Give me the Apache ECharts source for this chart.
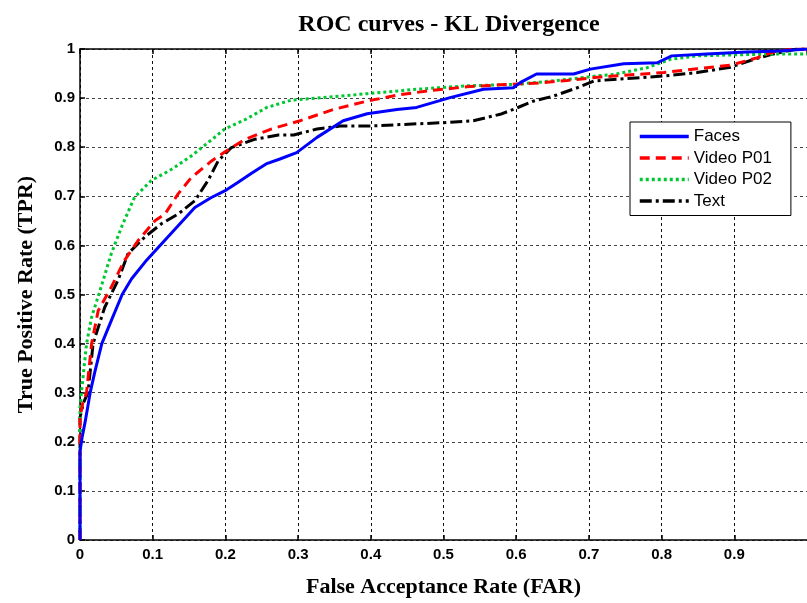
<!DOCTYPE html>
<html>
<head>
<meta charset="utf-8">
<script src="https://cdn.jsdelivr.net/npm/echarts@6/dist/echarts.min.js"></script>
<style>
  html, body { margin: 0; padding: 0; background: #fff; }
  #main { width: 807px; height: 603px; }
</style>
</head>
<body>
<div id="main"></div>
<script>
// ROC points: [FAR, TPR]
var faces = [[0,0],[0,0.18],[0.003,0.21],[0.007,0.24],[0.014,0.3],[0.02,0.34],[0.03,0.4],[0.045,0.454],[0.058,0.5],[0.071,0.532],[0.09,0.567],[0.112,0.603],[0.135,0.64],[0.158,0.677],[0.18,0.697],[0.199,0.711],[0.217,0.728],[0.237,0.748],[0.256,0.766],[0.275,0.776],[0.298,0.789],[0.326,0.82],[0.362,0.854],[0.395,0.868],[0.436,0.877],[0.463,0.881],[0.509,0.901],[0.555,0.918],[0.596,0.921],[0.606,0.932],[0.628,0.949],[0.679,0.949],[0.702,0.959],[0.748,0.97],[0.794,0.972],[0.814,0.986],[0.862,0.99],[0.917,0.994],[0.963,0.996],[1,1]];
var videoP01 = [[0,0],[0,0.25],[0.004,0.28],[0.009,0.3],[0.016,0.4],[0.025,0.467],[0.043,0.515],[0.061,0.569],[0.08,0.61],[0.103,0.65],[0.117,0.664],[0.135,0.705],[0.153,0.738],[0.181,0.772],[0.199,0.79],[0.227,0.816],[0.263,0.837],[0.303,0.854],[0.349,0.877],[0.395,0.894],[0.44,0.907],[0.486,0.916],[0.532,0.923],[0.578,0.927],[0.624,0.93],[0.67,0.936],[0.716,0.943],[0.734,0.945],[0.803,0.952],[0.849,0.96],[0.895,0.967],[0.931,0.982],[0.954,0.994],[0.98,1],[1,1]];
var videoP02 = [[0,0],[0,0.27],[0.002,0.3],[0.009,0.4],[0.016,0.454],[0.029,0.515],[0.043,0.583],[0.057,0.637],[0.075,0.698],[0.098,0.732],[0.126,0.755],[0.153,0.782],[0.181,0.815],[0.199,0.837],[0.227,0.856],[0.257,0.881],[0.291,0.896],[0.341,0.902],[0.395,0.909],[0.463,0.918],[0.532,0.925],[0.601,0.928],[0.67,0.938],[0.716,0.946],[0.734,0.948],[0.78,0.962],[0.812,0.979],[0.849,0.986],[0.895,0.988],[0.931,0.989],[0.973,0.99],[1,0.99]];
var text = [[0,0],[0,0.25],[0.005,0.28],[0.011,0.3],[0.018,0.4],[0.034,0.474],[0.052,0.528],[0.066,0.583],[0.089,0.617],[0.112,0.644],[0.135,0.664],[0.158,0.691],[0.176,0.732],[0.19,0.772],[0.208,0.799],[0.24,0.816],[0.273,0.825],[0.294,0.825],[0.326,0.837],[0.358,0.843],[0.395,0.843],[0.44,0.846],[0.5,0.85],[0.541,0.854],[0.578,0.867],[0.596,0.877],[0.624,0.894],[0.651,0.904],[0.684,0.921],[0.707,0.935],[0.734,0.938],[0.803,0.945],[0.849,0.952],[0.895,0.963],[0.927,0.979],[0.954,0.99],[0.986,1],[1,1]];
var seriesNames = ['Faces', 'Video P01', 'Video P02', 'Text'];

var chart = echarts.init(document.getElementById('main'));

var tickFont = { fontFamily: 'Liberation Sans, Arial', fontWeight: 'bold', fontSize: 15, color: '#000' };
var nameFont = { fontFamily: 'Liberation Serif, Times New Roman', fontWeight: 'bold', fontSize: 22, color: '#000' };

function line(name, data, color, type, z) {
    return {
        name: name,
        type: 'line',
        data: data,
        showSymbol: false,
        symbol: 'none',
        z: z,
        lineStyle: { color: color, width: 3, type: type },
        itemStyle: { color: color }
    };
}

var option = {
    animation: false,
    backgroundColor: '#fff',
    title: {
        text: 'ROC curves - KL Divergence',
        left: 444,
        textAlign: 'center',
        top: 8,
        textStyle: { fontFamily: 'Liberation Serif, Times New Roman', fontWeight: 'bold', fontSize: 24, color: '#000' }
    },
    grid: { left: 80, top: 49, right: -3, bottom: 63 },
    legend: {
        orient: 'vertical',
        left: 630,
        top: 122,
        padding: [6, 19, 6, 8],
        itemWidth: 49,
        itemHeight: 14,
        itemGap: 4.5,
        borderColor: '#000',
        borderWidth: 1,
        backgroundColor: '#fff',
        itemStyle: { opacity: 0 },
        lineStyle: { width: 3.5 },
        textStyle: { fontFamily: 'Liberation Sans, Arial', fontSize: 17, color: '#000' },
        data: seriesNames
    },
    xAxis: [{
        type: 'value',
        min: 0, max: 1, interval: 0.1,
        name: 'False Acceptance Rate (FAR)',
        nameLocation: 'middle',
        nameGap: 36,
        nameTextStyle: nameFont,
        axisLine: { lineStyle: { color: '#000', width: 1.5 } },
        axisTick: { inside: true, length: 5, lineStyle: { color: '#000', width: 1.5 } },
        axisLabel: Object.assign({ margin: 7, showMaxLabel: false }, tickFont),
        splitLine: { show: true, lineStyle: { color: '#111', width: 1, type: [3, 3] } }
    }, {
        type: 'value',
        position: 'top',
        min: 0, max: 1, interval: 0.1,
        axisLine: { show: true, lineStyle: { color: '#000', width: 1.5 } },
        axisTick: { show: true, inside: true, length: 5, lineStyle: { color: '#000', width: 1.5 } },
        axisLabel: { show: false },
        splitLine: { show: false }
    }],
    yAxis: {
        type: 'value',
        min: 0, max: 1, interval: 0.1,
        name: 'True Positive Rate (TPR)',
        nameLocation: 'middle',
        nameGap: 43,
        nameTextStyle: nameFont,
        axisLine: { show: true, lineStyle: { color: '#000', width: 1.5 } },
        axisTick: { show: true, inside: true, length: 5, lineStyle: { color: '#000', width: 1.5 } },
        axisLabel: Object.assign({ margin: 5 }, tickFont),
        splitLine: { show: true, lineStyle: { color: '#444', width: 1, type: [3, 3] } }
    },
    series: [
        line('Faces', faces, '#0000ff', 'solid', 5),
        line('Video P01', videoP01, '#ff0000', [10, 6], 4),
        line('Video P02', videoP02, '#00c832', [3, 3], 3),
        line('Text', text, '#000000', [12, 4, 3, 4], 2)
    ]
};
chart.setOption(option);
</script>
</body>
</html>
